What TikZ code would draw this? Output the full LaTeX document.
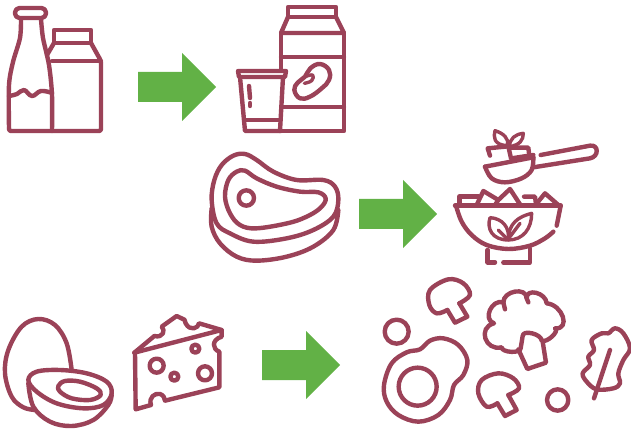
\documentclass[tikz,border=0pt]{standalone}
\usepackage{tikz}
\definecolor{iconred}{HTML}{9B4258}
\definecolor{arrgreen}{HTML}{62B146}
\begin{document}
\begin{tikzpicture}[x=1pt,y=-1pt,
icon/.style={draw=iconred,line width=4.4pt,line join=round,line cap=round},
thin icon/.style={icon,line width=3.4pt},
arr/.style={fill=arrgreen,draw=none},
crop/.style={shift={#1},scale=1/3}]
\useasboundingbox (0,0) rectangle (631,430);
% green arrows
\foreach \ax/\ay in {138/87,359/214,262/365}
  \fill[arr,shift={(\ax,\ay)}] (0,-15) -- (44,-15) -- (44,-34) -- (78,0) -- (44,34) -- (44,15) -- (0,15) -- cycle;
% milk bottle and carton
\draw[icon,rounded corners=4.5pt] (15,8) rectangle (46,18);
\draw[icon] plot[smooth,tension=.5] coordinates {(21,19) (20,38) (13,62) (9,85) (9,128)};
\draw[icon] plot[smooth,tension=.5] coordinates {(41,19) (43,38) (49,65) (52,95) (52,131)};
\draw[icon,rounded corners=2pt] (9,128) -- (9,131) -- (101,131) -- (101,61) -- (91,43);
\draw[icon] plot[smooth,tension=.7] coordinates {(9,96) (17,94) (24,90) (32,96) (41,91) (52,93)};
\draw[icon] (54,43) rectangle (91,30);
\draw[icon] (54,43) -- (47,55);
\draw[icon] (52,61) -- (101,61);
% soy carton and glass
\draw[icon] (288,17) rectangle (336,7);
\draw[icon] (288,17) -- (281,33) -- (344,33) -- (336,17);
\draw[icon] (281,33) -- (281,70);
\draw[icon] (344,33) -- (344,131) -- (281,131);
\draw[icon] (281,57) -- (344,57);
\draw[icon] (283,107) -- (344,107);
\draw[icon] (238,71) -- (286,71) -- (285,77) -- (239,77) -- cycle;
\draw[icon] (240,77) -- (245,131) -- (281,131);
\draw[icon] (283,77) -- (280,131);
\draw[icon] (244,120) -- (280,120);
\draw[icon] (249,86) -- (250,98);
\draw[icon] (250,103) -- (250,106);
\begin{scope}[crop={(225,60)}]
  \draw[icon] plot[smooth cycle,tension=.7] coordinates {(208,90) (218,68) (240,50) (256,25) (285,12) (312,30) (312,60) (290,85) (255,110) (225,115)};
  \draw[thin icon] plot[smooth,tension=.7] coordinates {(240,50) (263,45) (260,62) (238,70)};
\end{scope}
% steak
\begin{scope}[crop={(200,130)}]
  \draw[icon] plot[smooth cycle,tension=.6] coordinates {(35,210) (43,150) (65,105) (100,77) (135,72) (170,90) (220,125) (290,150) (370,150) (405,170) (415,210) (400,260) (340,300) (260,325) (160,335) (90,310) (50,280)};
  \draw[icon] plot[smooth,tension=.6] coordinates {(35,235) (35,290) (60,340) (110,380) (170,392) (260,380) (340,350) (400,300) (415,240)};
  \draw[icon] plot[smooth cycle,tension=.6] coordinates {(75,200) (85,150) (110,125) (135,122) (170,145) (230,170) (300,185) (355,187) (377,205) (365,230) (330,255) (270,278) (170,295) (120,285) (90,250)};
  \draw[icon] (139,204) circle (23);
\end{scope}
% spoon with salad
\begin{scope}[crop={(450,125)}]
  \draw[icon] (105,125) -- (250,97);
  \draw[icon] plot[smooth,tension=.6] coordinates {(105,125) (125,160) (165,172) (215,160) (245,135) (250,97)};
  \draw[icon] (250,127) -- (420,100) .. controls (447,95) and (447,58) .. (420,62) -- (272,90);
  \draw[icon] (120,92) -- (113,70) -- (175,64) -- (183,100);
  \draw[icon] (178,68) -- (235,68) -- (237,85);
  \draw[icon] (185,100) -- (250,90);
  \draw[thin icon] (172,62) .. controls (130,60) and (130,35) .. (135,17) .. controls (160,25) and (178,40) .. (172,62);
  \draw[thin icon] (178,65) .. controls (180,40) and (195,28) .. (220,25) .. controls (220,45) and (210,60) .. (178,65);
\end{scope}
% salad bowl
\begin{scope}[crop={(450,185)}]
  \draw[icon] (15,62) -- (332,62);
  \draw[icon] plot[smooth,tension=.6] coordinates {(18,62) (35,110) (65,150) (110,180) (175,192) (240,182) (285,160) (310,140)};
  \draw[icon] (320,122) -- (332,62);
  \draw[icon] (113,195) -- (113,232) -- (135,232);
  \draw[icon] (160,232) -- (240,232) -- (240,190);
  \draw[icon] (28,60) -- (28,35) -- (85,35);
  \draw[icon] (80,60) -- (100,18) -- (145,45) -- (135,60);
  \draw[icon] (145,45) -- (180,12) -- (210,58);
  \draw[icon] (222,35) -- (255,35) -- (258,58);
  \draw[icon] (258,58) -- (285,25) -- (325,60);
  \draw[thin icon] (175,165) .. controls (125,165) and (110,130) .. (120,98) .. controls (155,100) and (180,125) .. (175,165);
  \draw[thin icon] (175,165) .. controls (175,115) and (205,95) .. (245,85) .. controls (245,130) and (220,165) .. (175,165);
  \draw[thin icon] (145,135) -- (170,160);
  \draw[thin icon] (210,115) -- (180,155);
\end{scope}
% egg
\begin{scope}[crop={(0,300)}]
  \draw[icon] plot[smooth,tension=.6] coordinates {(215,210) (200,130) (165,75) (115,57) (65,80) (25,150) (15,220) (35,290) (70,322) (105,330)};
  \draw[icon] plot[smooth cycle,tension=.6] coordinates {(85,240) (110,215) (180,210) (260,220) (320,245) (335,280) (310,315) (250,325) (170,310) (110,275)};
  \draw[icon] plot[smooth,tension=.6] coordinates {(85,250) (100,320) (150,365) (215,378) (280,360) (325,315) (335,285)};
  \draw[icon] plot[smooth cycle,tension=.6] coordinates {(175,258) (195,243) (240,245) (290,265) (302,285) (270,300) (215,295) (180,275)};
\end{scope}
% cheese
\begin{scope}[crop={(125,310)}]
  \draw[icon] (28,128) -- (290,60);
  \draw[icon] (30,128) -- (32,298) -- (78,285) .. controls (70,262) and (90,248) .. (105,252) .. controls (115,255) and (120,265) .. (120,272) -- (283,232) -- (283,125) .. controls (262,118) and (258,90) .. (290,80) -- (290,60) -- (222,40) .. controls (220,55) and (195,65) .. (182,40) .. controls (178,35) and (180,30) .. (180,30) -- (155,18) -- (110,50) .. controls (122,60) and (115,85) .. (88,78) -- (28,128);
  \draw[icon] (95,167) circle (21);
  \draw[icon] (148,200) circle (12);
  \draw[icon] (211,116) circle (12);
  \draw[icon] (240,190) circle (21);
\end{scope}
% vegetables
\begin{scope}[crop={(370,270)}]
  \draw[icon] plot[smooth,tension=.6] coordinates {(232,120) (200,130) (178,105) (180,60) (235,28) (280,40) (300,75) (268,100)};
  \draw[icon] (268,100) -- (292,140) -- (255,158) -- (232,120);
  \draw[icon] plot[smooth,tension=.6] coordinates {(382,400) (350,410) (325,370) (335,330) (385,310) (430,325) (447,355) (415,375)};
  \draw[icon] (415,375) -- (440,420) -- (405,438) -- (382,400);
  \draw[icon] (452,235) .. controls (452,251) and (395,248) .. (395,232) .. controls (345,244) and (322,172) .. (372,160) .. controls (337,149) and (365,86) .. (400,97) .. controls (400,62) and (470,50) .. (470,85) .. controls (468,53) and (528,68) .. (530,100) .. controls (578,104) and (603,179) .. (555,175) .. controls (570,183) and (530,220) .. (515,212) .. controls (515,192) and (458,178) .. (458,198) -- cycle;
  \draw[icon] (405,118) -- (400,97);
  \draw[icon] (475,97) -- (470,85);
  \draw[icon] (445,238) -- (472,297) -- (528,278) -- (518,215);
  \draw[icon] (80,185) circle (36);
  \draw[icon] (563,390) circle (32);
  \draw[icon] plot[smooth cycle,tension=.6] coordinates {(42,345) (65,280) (110,247) (150,238) (180,212) (220,205) (265,225) (292,270) (280,315) (252,345) (240,390) (205,435) (145,455) (85,435) (50,395)};
  \draw[icon] (143,350) circle (57);
  \draw[icon] plot[smooth cycle,tension=.6] coordinates {(680,358) (650,335) (638,310) (660,285) (655,260) (672,240) (665,210) (695,190) (715,190) (735,175) (760,190) (780,235) (760,270) (745,310) (750,340) (730,355)};
  \draw[icon] (720,240) -- (672,385);
\end{scope}
\end{tikzpicture}
\end{document}
